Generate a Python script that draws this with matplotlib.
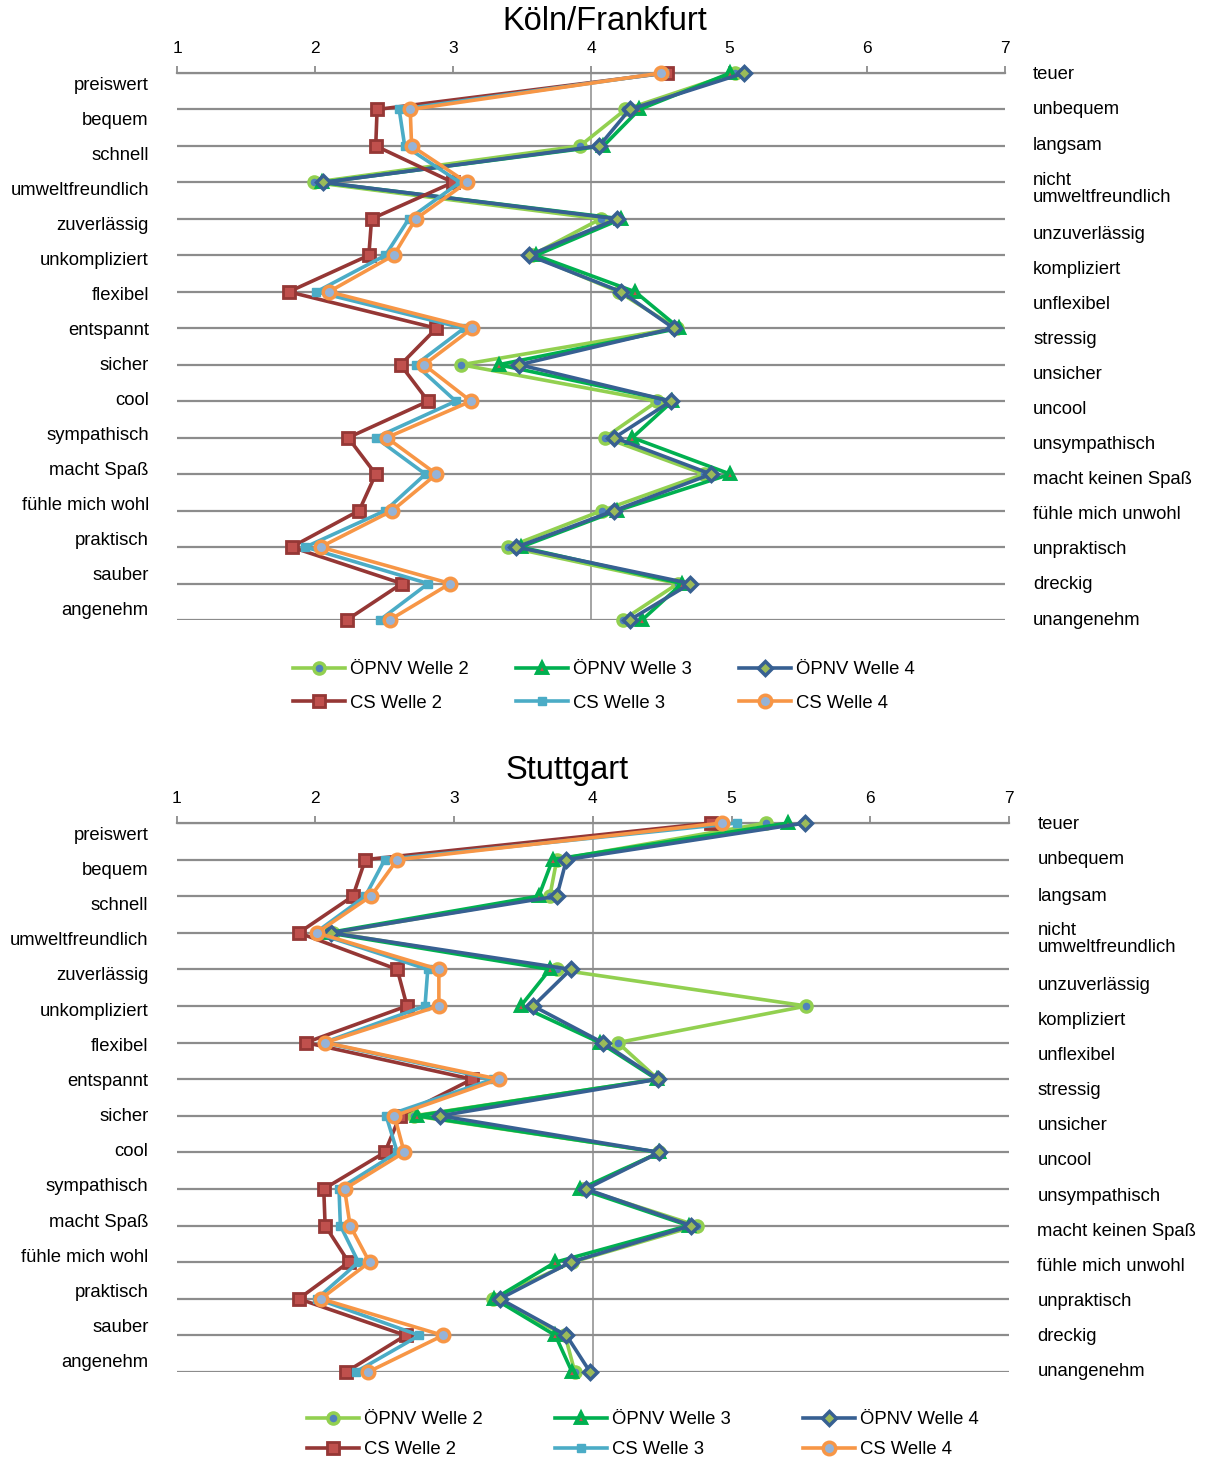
import matplotlib
matplotlib.use("Agg")
import matplotlib.pyplot as plt
from matplotlib.lines import Line2D
import numpy as np

plt.rcParams['font.family'] = ['Liberation Sans', 'DejaVu Sans']

left_labels = ["preiswert", "bequem", "schnell", "umweltfreundlich", "zuverlässig",
               "unkompliziert", "flexibel", "entspannt", "sicher", "cool", "sympathisch",
               "macht Spaß", "fühle mich wohl", "praktisch", "sauber", "angenehm"]
right_labels = ["teuer", "unbequem", "langsam", "nicht\numweltfreundlich", "unzuverlässig",
                "kompliziert", "unflexibel", "stressig", "unsicher", "uncool", "unsympathisch",
                "macht keinen Spaß", "fühle mich unwohl", "unpraktisch", "dreckig", "unangenehm"]
series_names = ["ÖPNV Welle 2", "ÖPNV Welle 3", "ÖPNV Welle 4",
                "CS Welle 2", "CS Welle 3", "CS Welle 4"]

# Köln/Frankfurt
koeln_oepnv_w2 = [5.04, 4.25, 3.92, 1.99, 4.07, 3.57, 4.20, 4.62, 3.06, 4.48, 4.10, 4.82, 4.08, 3.40, 4.63, 4.23]
koeln_oepnv_w3 = [5.01, 4.35, 4.09, 2.05, 4.22, 3.60, 4.32, 4.64, 3.33, 4.59, 4.30, 5.01, 4.19, 3.49, 4.66, 4.37]
koeln_oepnv_w4 = [5.11, 4.28, 4.06, 2.06, 4.19, 3.55, 4.22, 4.60, 3.48, 4.58, 4.17, 4.87, 4.17, 3.46, 4.72, 4.28]
koeln_cs_w2 = [4.55, 2.45, 2.44, 3.00, 2.41, 2.39, 1.81, 2.88, 2.62, 2.82, 2.24, 2.44, 2.32, 1.83, 2.63, 2.23]
koeln_cs_w3 = [4.53, 2.61, 2.65, 3.05, 2.68, 2.51, 2.01, 3.08, 2.73, 3.02, 2.44, 2.80, 2.51, 1.93, 2.82, 2.47]
koeln_cs_w4 = [4.51, 2.69, 2.70, 3.10, 2.73, 2.57, 2.10, 3.14, 2.79, 3.13, 2.52, 2.88, 2.56, 2.04, 2.98, 2.54]

# Stuttgart
stgt_oepnv_w2 = [5.25, 3.74, 3.69, 2.13, 3.74, 5.54, 4.18, 4.47, 2.71, 4.48, 3.93, 4.75, 3.85, 3.28, 3.80, 3.87]
stgt_oepnv_w3 = [5.41, 3.71, 3.61, 2.09, 3.69, 3.48, 4.05, 4.46, 2.73, 4.48, 3.91, 4.69, 3.73, 3.29, 3.73, 3.85]
stgt_oepnv_w4 = [5.53, 3.81, 3.74, 2.11, 3.84, 3.57, 4.07, 4.47, 2.90, 4.48, 3.95, 4.71, 3.84, 3.33, 3.81, 3.98]
stgt_cs_w2 = [4.85, 2.36, 2.27, 1.88, 2.59, 2.66, 1.93, 3.13, 2.61, 2.50, 2.06, 2.07, 2.24, 1.88, 2.65, 2.22]
stgt_cs_w3 = [5.04, 2.50, 2.36, 2.00, 2.81, 2.79, 2.06, 3.28, 2.51, 2.59, 2.17, 2.18, 2.31, 2.01, 2.75, 2.29]
stgt_cs_w4 = [4.93, 2.59, 2.40, 2.01, 2.89, 2.89, 2.07, 3.32, 2.57, 2.64, 2.21, 2.25, 2.39, 2.04, 2.92, 2.38]

styles = [
    dict(color='#92D050', marker='o', ms=8, mfc='#4F81BD', mec='#92D050', mew=2.5),
    dict(color='#00B050', marker='^', ms=7, mfc='#C0504D', mec='#00B050', mew=2.8),
    dict(color='#376092', marker='D', ms=7, mfc='#9BBB59', mec='#376092', mew=2.5),
    dict(color='#953735', marker='s', ms=8, mfc='#C0504D', mec='#953735', mew=2),
    dict(color='#4BACC6', marker='s', ms=6, mfc='#4BACC6', mec='#4BACC6', mew=1),
    dict(color='#F79646', marker='o', ms=9, mfc='#95B3D7', mec='#F79646', mew=2.5),
]

FS = 13.3
GRID = '#8c8c8c'


def panel(ax, title, title_xy, data):
    rows = np.arange(len(left_labels))
    for r in rows:
        ax.axhline(r, color=GRID, lw=1.6, zorder=1)
    ax.plot([4, 4], [0, len(rows) - 1], color=GRID, lw=1.1, zorder=1)
    for vals, st in zip(data, styles):
        ax.plot(vals, rows, lw=2.6, clip_on=False, zorder=3, **st)
    ax.set_xlim(1, 7)
    ax.set_ylim(len(rows) - 1, 0)
    ax.xaxis.tick_top()
    ax.set_xticks(range(1, 8))
    ax.tick_params(axis='x', direction='out', length=5, width=1.3, color=GRID,
                   pad=7, labelsize=12.5)
    ax.set_yticks([])
    for s in ['left', 'right', 'bottom']:
        ax.spines[s].set_visible(False)
    ax.spines['top'].set_color(GRID)
    ax.spines['top'].set_linewidth(1.6)
    ytr = ax.get_yaxis_transform()
    left_y = np.linspace(0.33, 14.75, 16)
    right_y = list([0.05, 1.0, 2.0, 3.18]) + list(np.linspace(4.43, 15.0, 12))
    for lab, y in zip(left_labels, left_y):
        ax.text(-0.034, y, lab, transform=ytr, ha='right', va='center', fontsize=FS)
    for lab, y in zip(right_labels, right_y):
        ax.text(1.034, y, lab, transform=ytr, ha='left', va='center', fontsize=FS,
                linespacing=1.0)
    ax.figure.text(title_xy[0], title_xy[1], title, ha='center', va='center', fontsize=23.5)


W, H = 1208, 1459
fig = plt.figure(figsize=(W / 100, H / 100), dpi=100)

ax1 = fig.add_axes([177 / W, 1 - 620 / H, 828 / W, 547 / H])
panel(ax1, "Köln/Frankfurt", (605 / W, 1 - 22 / H),
      [koeln_oepnv_w2, koeln_oepnv_w3, koeln_oepnv_w4, koeln_cs_w2, koeln_cs_w3, koeln_cs_w4])

ax2 = fig.add_axes([176.7 / W, 1 - 1372 / H, 832.3 / W, 549 / H])
panel(ax2, "Stuttgart", (567 / W, 1 - 771 / H),
      [stgt_oepnv_w2, stgt_oepnv_w3, stgt_oepnv_w4, stgt_cs_w2, stgt_cs_w3, stgt_cs_w4])

handles = [Line2D([], [], lw=2.6, **st) for st in styles]
order = [0, 3, 1, 4, 2, 5]
h = [handles[i] for i in order]
l = [series_names[i] for i in order]

fig.legend(h, l, ncol=3, loc='upper left', bbox_to_anchor=(293 / W, 1 - 661 / H),
           frameon=False, fontsize=FS, handlelength=2.8, handletextpad=0.3,
           columnspacing=2.55, labelspacing=0.91, borderpad=0, borderaxespad=0)
fig.legend(h, l, ncol=3, loc='upper left', bbox_to_anchor=(307 / W, 1 - 1411 / H),
           frameon=False, fontsize=FS, handlelength=2.8, handletextpad=0.3,
           columnspacing=3.9, labelspacing=0.71, borderpad=0, borderaxespad=0)

fig.savefig("out.png", dpi=100)
